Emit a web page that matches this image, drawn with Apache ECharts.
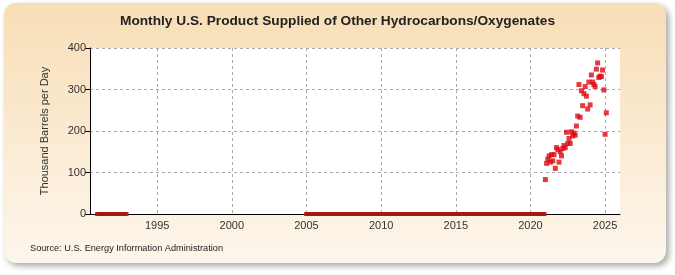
<!DOCTYPE html>
<html><head><meta charset="utf-8">
<script src="https://cdn.jsdelivr.net/npm/echarts@6/dist/echarts.min.js"></script>
<style>html,body{margin:0;padding:0;background:#fff}#c{width:675px;height:275px}</style>
</head><body><div id="c"></div>
<script>
// Zero-valued months
const zeroRanges = [["1991-01","1992-12"],["2005-01","2020-12"]];
// Monthly values starting Jan 2021 (thousand barrels per day)
const startMonth = "2021-01";
const values = [83,122,132,140,125,143,128,143,110,160,155,125,
  150,140,158,165,160,197,170,182,170,198,188,195,
  190,212,236,312,233,297,261,290,307,284,253,318,
  263,335,318,312,307,349,364,329,332,331,347,299,
  192,244];
const yTicks = [0,100,200,300,400];
const xTickYears = [1995,2000,2005,2010,2015,2020,2025];

function toDec(s){const [y,m]=s.split("-").map(Number);return y+(m-1)/12;}
function monthsBetween(a,b){const [y1,m1]=a.split("-").map(Number);const [y2,m2]=b.split("-").map(Number);return (y2-y1)*12+(m2-m1);}
const zeroData=[];
zeroRanges.forEach(([a,b])=>{const n=monthsBetween(a,b);const s=toDec(a);for(let i=0;i<=n;i++)zeroData.push([s+i/12,0]);});
const s0=toDec(startMonth);
const valData=values.map((v,i)=>[s0+i/12,v]);

const chart=echarts.init(document.getElementById('c'),null,{renderer:'canvas'});
chart.setOption({
  animation:false,
  backgroundColor:'#ffffff',
  graphic:[
    {type:'rect',z:-10,shape:{x:4,y:3,width:662,height:260,r:12},
     style:{fill:new echarts.graphic.LinearGradient(0,0,0,1,[{offset:0,color:'#f8deb6'},{offset:1,color:'#fdf6ec'}]),
       shadowBlur:6,shadowOffsetX:3,shadowOffsetY:3,shadowColor:'rgba(0,0,0,0.35)'}},
    {type:'rect',z:-9,shape:{x:90,y:48,width:530,height:166},style:{fill:'#ffffff'}},
    {type:'text',left:'center',top:14,style:{text:'Monthly U.S. Product Supplied of Other Hydrocarbons/Oxygenates',font:'bold 13.7px "Liberation Sans Narrow", "Liberation Sans", Arial',fill:'#222'}},
    {type:'text',left:30,top:244,style:{text:'Source: U.S. Energy Information Administration',font:'9.2px "Liberation Sans", Arial',fill:'#222'}}
  ],
  grid:{left:90,right:55,top:48,bottom:61,containLabel:false},
  xAxis:{type:'value',min:1990.5,max:2026,minInterval:5,maxInterval:5,
    axisLine:{show:true,lineStyle:{color:'#000',width:1}},
    axisTick:{show:false},
    axisLabel:{color:'#333',fontSize:11,fontFamily:'"Liberation Sans", Arial',margin:6,
      formatter:v=>xTickYears.includes(Math.round(v*1000)/1000)?String(v):''},
    splitLine:{show:true,showMinLine:false,showMaxLine:false,lineStyle:{color:'#aaa',type:[3,3],width:1}}},
  yAxis:{type:'value',min:0,max:400,interval:100,
    name:'Thousand Barrels per Day',nameLocation:'middle',nameGap:40,
    nameTextStyle:{color:'#333',fontSize:11,fontFamily:'"Liberation Sans", Arial'},
    axisLine:{show:true,lineStyle:{color:'#000',width:1}},
    axisTick:{show:true,length:5,lineStyle:{color:'#000'}},
    axisLabel:{color:'#333',fontSize:11,fontFamily:'"Liberation Sans", Arial',margin:4,
      formatter:v=>yTicks.includes(v)?String(v):''},
    splitLine:{show:true,lineStyle:{color:'#aaa',type:[3,3],width:1}}},
  series:[
    {type:'scatter',data:zeroData,symbol:'rect',symbolSize:[5,4],itemStyle:{color:'#a51818'},z:3},
    {type:'scatter',data:valData,symbol:'rect',symbolSize:[5,5],itemStyle:{color:'#dd0a14'},z:4}
  ]
});
</script></body></html>
